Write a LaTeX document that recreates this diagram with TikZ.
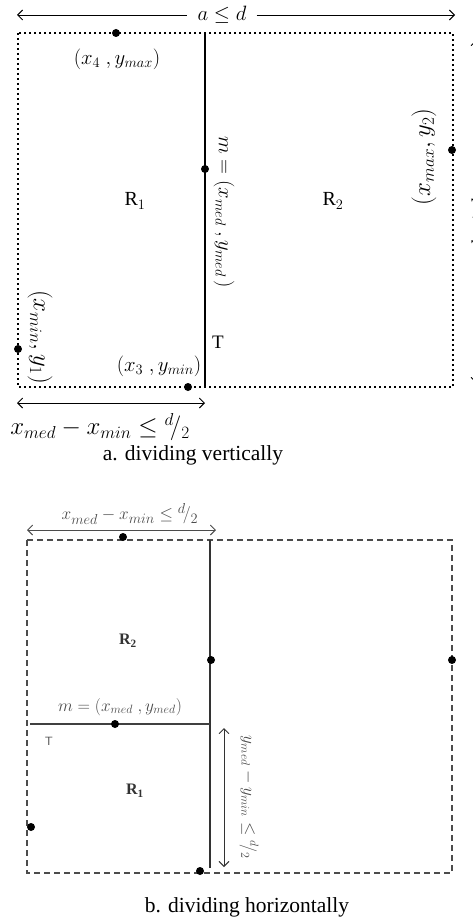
\documentclass[tikz,border=0pt]{standalone}
\usepackage{fontspec}
\setmainfont{Liberation Serif}
\usetikzlibrary{arrows.meta}
\newcommand{\fsz}[1]{\fontsize{#1}{#1}\selectfont}
\begin{document}
\begin{tikzpicture}[x=1pt,y=-1pt,
  pt/.style={circle,fill=black,inner sep=0pt,minimum size=8pt},
  sq/.style={line width=2.4pt,dash pattern=on 2.4pt off 2.6pt},
  ds/.style={line width=1.6pt,dash pattern=on 6pt off 4pt,draw=black!70},
  tarrow/.style={line width=0.9pt,{Straight Barb[length=5pt,width=10pt]}-{Straight Barb[length=5pt,width=10pt]}},
  larrow/.style={line width=0.9pt,{Straight Barb[length=5pt,width=10pt]}-},
  rarrow/.style={line width=0.9pt,-{Straight Barb[length=5pt,width=10pt]}},
  lbl/.style={inner sep=1pt},
  lblb/.style={inner sep=1pt,text=black!70},
  captext/.style={font=\fsz{21.5},inner sep=0pt},
]
\useasboundingbox[fill=white] (0,0) rectangle (473,920);

% ---------------- (a) dividing vertically ----------------
\coordinate (aTL) at (18,33);
\coordinate (aBR) at (453,387);
\coordinate (aMT) at (205,33);
\coordinate (aMB) at (205,387);
\draw[sq] (aTL) rectangle (aBR);
\draw[line width=2pt] (aMT) -- (aMB);

% top arrow
\coordinate (aArL) at (17,15);
\coordinate (aArR) at (455,15);
\node[lbl,font=\fsz{21},inner xsep=10pt] (aLab) at (222,15) {$a \le d$};
\draw[larrow] (aArL) -- (aArL -| aLab.west);
\draw[rarrow] (aArR -| aLab.east) -- (aArR);

% right (clipped) arrow
\coordinate (rT) at (476,40);
\coordinate (rB) at (476,383);
\draw[tarrow] (rT) -- (rB);
\node[lbl,font=\fsz{22},fill=white,rotate=90] (rLab) at (480,222) {$b \le d$};

% points
\node[pt] (p4) at (116,33) {};
\node[pt] (pm) at (205,169) {};
\node[pt] (p2) at (452,150) {};
\node[pt] (p1) at (18,349) {};
\node[pt] (p3) at (188,387) {};

% labels
\node[lbl,font=\fsz{21}] (l4) at (117,59) {$(x_4\ , y_{max})$};
\node[lbl,font=\fsz{20}] (R1a) at (135,201) {R$_1$};
\node[lbl,font=\fsz{20}] (R2a) at (333,201) {R$_2$};
\node[lbl,font=\fsz{22},rotate=-90] (lm) at (224,212) {$m = (x_{med}\ , y_{med}\,)$};
\node[lbl,font=\fsz{19}] (Ta) at (218,342) {T};
\node[lbl,font=\fsz{22}] (l3) at (159,366) {$(x_3\ , y_{min})$};
\node[lbl,font=\fsz{24},rotate=-90] (l1) at (40,337) {$(x_{min}, y_1)$};
\node[lbl,font=\fsz{25},rotate=90] (l2) at (424,157) {$(x_{max}, y_2)$};

% bottom arrow
\coordinate (aBL) at (17,403);
\coordinate (aBRr) at (205,403);
\draw[tarrow] (aBL) -- (aBRr);
\node[lbl,font=\fsz{24}] (aDist) at (100,427) {$x_{med} - x_{min} \le {}^{d}\!/_{2}$};

\node[captext] (capA) at (193,455) {a. dividing vertically};

% ---------------- (b) dividing horizontally ----------------
\coordinate (bTL) at (27,540);
\coordinate (bBR) at (452,873);
\coordinate (bMT) at (210,540);
\coordinate (bMB) at (210,868);
\coordinate (bHL) at (30,724);
\coordinate (bHR) at (210,724);
\draw[ds] (bTL) rectangle (bBR);
\draw[line width=2pt,draw=black!80] (bMT) -- (bMB);
\draw[line width=1.5pt,draw=black!75] (bHL) -- (bHR);

% top arrow
\coordinate (bArL) at (27,530);
\coordinate (bArR) at (216,530);
\draw[tarrow,draw=black!70] (bArL) -- (bArR);
\node[lblb,font=\fsz{19}] (bDist) at (130,514) {$x_{med} - x_{min} \le {}^{d}\!/_{2}$};

% vertical arrow
\coordinate (bVT) at (224,728);
\coordinate (bVB) at (224,867);
\draw[tarrow,draw=black!80] (bVT) -- (bVB);
\node[lblb,font=\fsz{16.5},rotate=-90] (bVlab) at (249,797) {$y_{med} - y_{min} \le {}^{d}\!/_{2}$};

% points
\node[pt] (q4) at (123,537) {};
\node[pt] (qm2) at (211,660) {};
\node[pt] (q2) at (452,660) {};
\node[pt] (qm) at (115,724) {};
\node[pt] (q1) at (31,827) {};
\node[pt] (q3) at (200,871) {};

% labels
\node[lblb,text=black!80,font=\fsz{16}\bfseries] (R2b) at (128,641) {R$_\mathbf{2}$};
\node[lblb,text=black!80,font=\fsz{16}\bfseries] (R1b) at (135,791) {R$_\mathbf{1}$};
\node[lblb,font=\fsz{18.5}] (bm) at (120,707) {$m = (x_{med}\ , y_{med})$};
\node[lblb,font=\fsz{12}\sffamily] (Tb) at (49,741) {T};

\node[captext] (capB) at (247,907) {b. dividing horizontally};
\end{tikzpicture}
\end{document}
